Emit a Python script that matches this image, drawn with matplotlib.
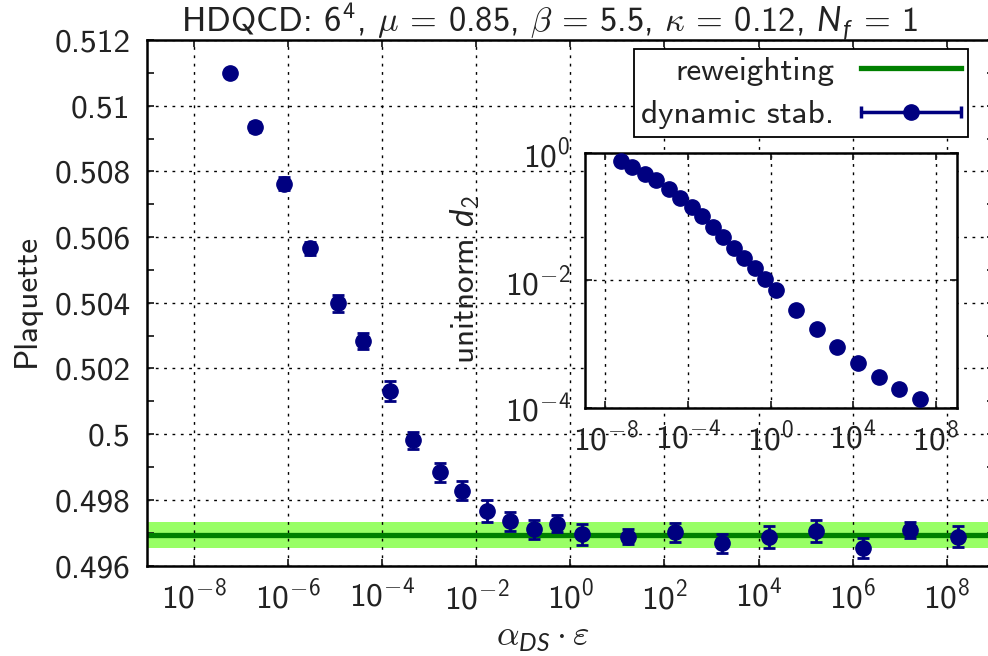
import matplotlib
matplotlib.use('Agg')
import matplotlib.pyplot as plt
from matplotlib.ticker import FixedLocator, NullLocator, MultipleLocator, FuncFormatter
from matplotlib.legend_handler import HandlerErrorbar
import numpy as np

plt.rcParams['font.family'] = ['cmss10', 'DejaVu Sans']
plt.rcParams['mathtext.fontset'] = 'custom'
plt.rcParams['mathtext.rm'] = 'cmss10'
plt.rcParams['mathtext.it'] = 'cmss10'
plt.rcParams['mathtext.sf'] = 'Lato:italic'   # slanted sans letters (N_f, DS, d)
plt.rcParams['mathtext.bf'] = 'cmr10'         # only used for the CM minus sign
plt.rcParams['mathtext.fallback'] = 'cm'

# data
alpha = [5.8e-8, 2.0e-7, 8.2e-7, 2.9e-6, 1.14e-5, 3.9e-5, 1.5e-4, 4.6e-4, 1.66e-3,
         5.0e-3, 1.7e-2, 5.1e-2, 1.7e-1, 5.2e-1, 1.73, 1.7e1, 1.7e2, 1.7e3, 1.7e4,
         1.7e5, 1.7e6, 1.7e7, 1.7e8]
plaquette = [0.51099, 0.50935, 0.50763, 0.50566, 0.50398, 0.50283, 0.50131, 0.49981,
             0.49884, 0.49828, 0.49766, 0.49734, 0.49710, 0.49727, 0.49695, 0.49688,
             0.49701, 0.49667, 0.49686, 0.49705, 0.49653, 0.49708, 0.49688]
plaquette_err = [0.0001, 0.00015, 0.0002, 0.0002, 0.00026, 0.00025, 0.0003, 0.00026,
                 0.00029, 0.0003, 0.00034, 0.0003, 0.0003, 0.00026, 0.00032, 0.00024,
                 0.00028, 0.00028, 0.00034, 0.00034, 0.0003, 0.00023, 0.00033]
unitnorm = [0.731, 0.596, 0.462, 0.368, 0.269, 0.195, 0.140, 0.100, 0.0682, 0.0481,
            0.0320, 0.0223, 0.0153, 0.0104, 0.00702, 0.00341, 0.00171, 9.06e-4,
            5.02e-4, 3.03e-4, 1.94e-4, 1.35e-4]
rw_mean = 0.49692
rw_err = 0.0004

main_xticks = [1e-8, 1e-6, 1e-4, 1e-2, 1e0, 1e2, 1e4, 1e6, 1e8]
inset_xticks = [1e-8, 1e-4, 1e0, 1e4, 1e8]
inset_yticks = [1e-4, 1e-2, 1e0]

NAVY = '#000080'
TXT = '#222222'
FS = 24


def pow10(v, pos):
    e = int(round(np.log10(v)))
    if e < 0:
        return r'$10^{\mathbf{-}%d}$' % (-e)
    return r'$10^{%d}$' % e


fig = plt.figure(figsize=(9.88, 6.56), dpi=100)
ax = fig.add_axes([147/988, 1 - 565.5/656, 846.7/988, 525.5/656])

ax.axhspan(rw_mean - rw_err, rw_mean + rw_err, color='#99ff66', lw=0, zorder=1)
ax.axhline(rw_mean, color='green', lw=3.8, zorder=2, label='reweighting')
ax.errorbar(alpha, plaquette, yerr=plaquette_err, fmt='o', color=NAVY, ms=11,
            elinewidth=2, capsize=4, capthick=2, zorder=3)
# proxy for the legend entry (horizontal bar with caps)
proxy = ax.errorbar([np.nan], [np.nan], xerr=[1.0], fmt='o-', color=NAVY, ms=11,
                    elinewidth=2.5, capsize=4, capthick=2.5, label='dynamic stab.')

ax.set_xscale('log')
ax.set_xlim(1e-9, 1e9)
ax.set_ylim(0.496, 0.512)
ax.xaxis.set_major_locator(FixedLocator(main_xticks))
ax.xaxis.set_major_formatter(FuncFormatter(pow10))
ax.xaxis.set_minor_locator(NullLocator())
ax.yaxis.set_major_locator(MultipleLocator(0.002))
ax.yaxis.set_minor_locator(MultipleLocator(0.001))
ax.yaxis.set_major_formatter(FuncFormatter(lambda v, p: '%g' % round(v, 4)))
ax.tick_params(which='both', direction='in', top=True, right=True, length=5, width=1.3,
               labelsize=FS, colors=TXT)
ax.tick_params(axis='y', pad=12)
ax.tick_params(axis='x', pad=10)
ax.grid(True, which='major', color='black', linestyle=(0, (2, 4)), lw=1)
for s in ax.spines.values():
    s.set_linewidth(1.8)

leg = ax.legend(handles=[ax.lines[0], proxy], markerfirst=False, loc='upper right',
                bbox_to_anchor=(0.9697, 0.9823), borderaxespad=0, fontsize=FS,
                fancybox=False, framealpha=1, edgecolor='black', handlelength=3.0,
                handletextpad=0.8, labelspacing=0.42, borderpad=0.22,
                handler_map={type(proxy): HandlerErrorbar(xerr_size=1.5)})
leg.get_frame().set_linewidth(1.3)
for t in leg.get_texts():
    t.set_color(TXT)

# inset
axin = fig.add_axes([584.7/988, 1 - 407.7/656, 372/988, 255/656])
axin.plot(alpha[:len(unitnorm)], unitnorm, 'o', color=NAVY, ms=11, zorder=3)
axin.set_xscale('log')
axin.set_yscale('log')
axin.set_xlim(1e-9, 1e9)
axin.set_ylim(1e-4, 1e0)
axin.xaxis.set_major_locator(FixedLocator(inset_xticks))
axin.yaxis.set_major_locator(FixedLocator(inset_yticks))
axin.xaxis.set_minor_locator(NullLocator())
axin.yaxis.set_minor_locator(NullLocator())
axin.xaxis.set_major_formatter(FuncFormatter(pow10))
axin.yaxis.set_major_formatter(FuncFormatter(pow10))
axin.tick_params(which='both', direction='in', top=True, right=True, length=5, width=1.3,
                 labelsize=FS, colors=TXT, pad=10)
axin.grid(True, which='major', color='black', linestyle=(0, (2, 4)), lw=1)
for s in axin.spines.values():
    s.set_linewidth(1.8)

fig.text(550/988, 1 - 33/656,
         r'HDQCD: $6^4$, $\mu$ = 0.85, $\beta$ = 5.5, $\kappa$ = 0.12, '
         r'$\mathsf{N}_{\mathsf{f}}$ = 1',
         ha='center', va='baseline', fontsize=24.8, color=TXT)
fig.text(543/988, 1 - 646/656, r'$\alpha_{\mathsf{DS}} \cdot \varepsilon$', ha='center',
         va='baseline', fontsize=25.5, color=TXT)
fig.text(26/988, 1 - 300/656, 'Plaquette', rotation=90, ha='center', va='center',
         fontsize=FS, color=TXT)
fig.text(465/988, 1 - 280/656, r'unitnorm $\mathsf{d}_2$', rotation=90, ha='center',
         va='center', fontsize=FS, color=TXT)

fig.savefig('out.png', dpi=100)
